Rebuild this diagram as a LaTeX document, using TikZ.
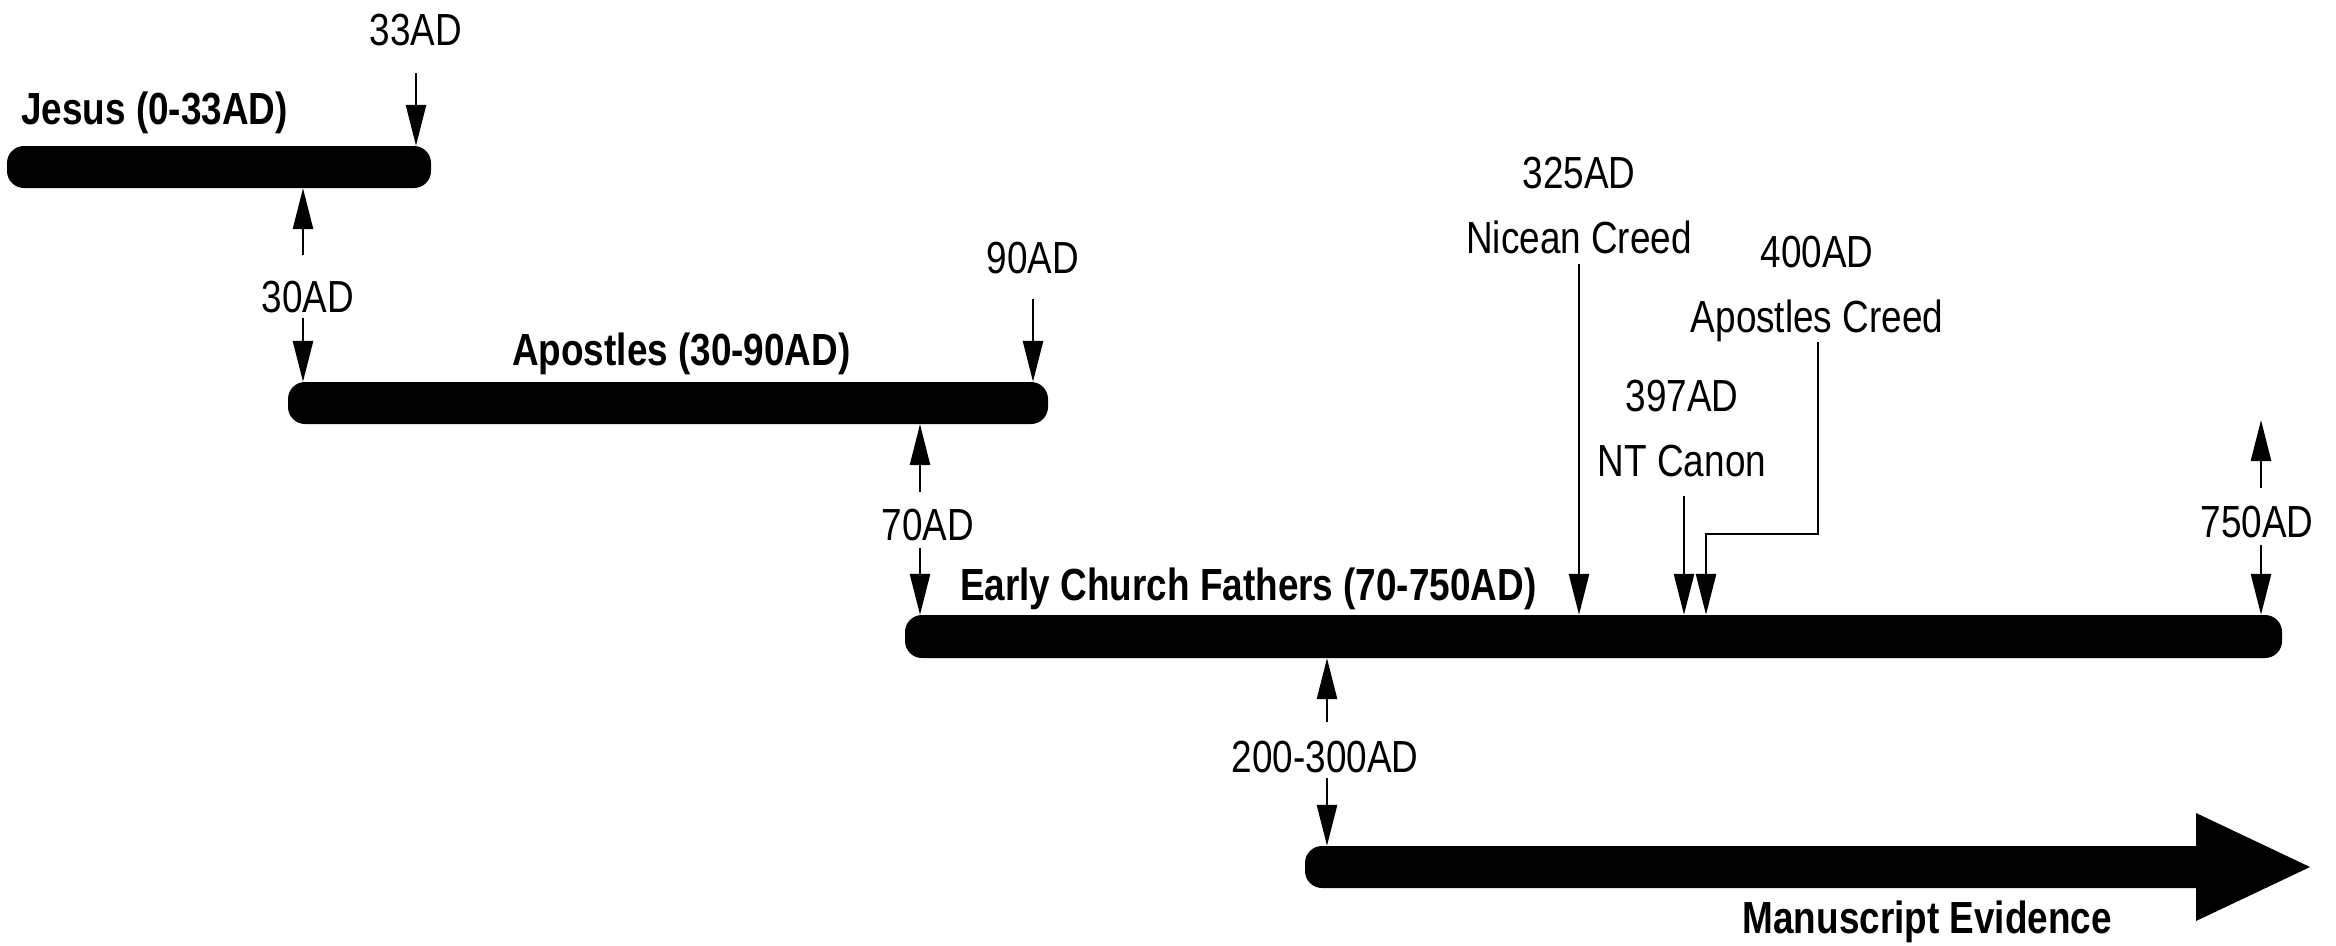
\documentclass[tikz,border=0pt]{standalone}
\usepackage{fontspec}
\setmainfont{Liberation Sans}[FakeStretch=0.82]
\usetikzlibrary{arrows.meta}
\tikzset{
  bar/.style={fill=black, draw=none, rectangle, rounded corners=17pt, inner sep=0pt, minimum height=42pt},
  arr/.style={line width=2.7pt, -{Triangle[length=41pt,width=20pt]}},
  lbl/.style={inner sep=0pt, font=\fontsize{45pt}{65pt}\selectfont},
  blbl/.style={inner sep=0pt, font=\fontsize{45pt}{65pt}\selectfont\bfseries},
}
\begin{document}
\begin{tikzpicture}[x=1pt, y=-1pt]
\useasboundingbox (0,0) rectangle (2336,945);
% bars
\node[bar, minimum width=424pt] (jesus) at (219,167) {};
\node[bar, minimum width=760pt] (apo) at (668,403) {};
\node[bar, minimum width=1377pt, minimum height=43pt] (ecf) at (1593.5,636.5) {};
\node[bar, minimum width=925pt] (ms) at (1767.5,867) {};
\coordinate (htop) at (2196,813);
\coordinate (htip) at (2310,867);
\coordinate (hbot) at (2196,921);
\fill (htop) -- (htip) -- (hbot) -- cycle;
% labels
\node[lbl, anchor=base] (l33) at (416,45) {33AD};
\node[blbl, anchor=base west] (ljesus) at (21,124) {Jesus (0-33AD)};
\node[lbl, anchor=base] (l30) at (308,312) {30AD};
\node[lbl, anchor=base] (l90) at (1033,273) {90AD};
\node[blbl, anchor=base west] (lapo) at (512,365) {Apostles (30-90AD)};
\node[lbl, anchor=base] (l70) at (928,540) {70AD};
\node[blbl, anchor=base west] (lecf) at (960,600) {Early Church Fathers (70-750AD)};
\node[lbl, anchor=north, align=center] (l325) at (1579,157) {325AD\\Nicean Creed};
\node[lbl, anchor=north, align=center] (l400) at (1817,236) {400AD\\Apostles Creed};
\node[lbl, anchor=north, align=center] (l397) at (1682,380) {397AD\\NT Canon};
\node[lbl, anchor=base] (l750) at (2257,537) {750AD};
\node[lbl, anchor=base] (l200) at (1325,772) {200-300AD};
\node[blbl, anchor=base east] (lms) at (2112,933) {Manuscript Evidence};
% arrow start points
\coordinate (a33) at (416,73);
\coordinate (a30u) at (303,255);
\coordinate (a30d) at (303,318);
\coordinate (a90) at (1033,299);
\coordinate (a70u) at (920,492);
\coordinate (a70d) at (920,548);
\coordinate (a325) at (1579,264);
\coordinate (a397) at (1684,496);
\coordinate (a400) at (1818,342);
\coordinate (bend400) at (1706,534);
\coordinate (a750u) at (2261,488);
\coordinate (t750u) at (2261,420);
\coordinate (a750d) at (2261,545);
\coordinate (a200u) at (1327,722);
\coordinate (a200d) at (1327,778);
% arrows
\draw[arr] (a33) -- (a33 |- jesus.north);
\draw[arr] (a30u) -- (a30u |- jesus.south);
\draw[arr] (a30d) -- (a30d |- apo.north);
\draw[arr] (a90) -- (a90 |- apo.north);
\draw[arr] (a70u) -- (a70u |- apo.south);
\draw[arr] (a70d) -- (a70d |- ecf.north);
\draw[arr] (a325) -- (a325 |- ecf.north);
\draw[arr] (a397) -- (a397 |- ecf.north);
\draw[arr] (a400) |- (bend400) -- (bend400 |- ecf.north);
\draw[arr] (a750u) -- (t750u);
\draw[arr] (a750d) -- (a750d |- ecf.north);
\draw[arr] (a200u) -- (a200u |- ecf.south);
\draw[arr] (a200d) -- (a200d |- ms.north);
\end{tikzpicture}
\end{document}
